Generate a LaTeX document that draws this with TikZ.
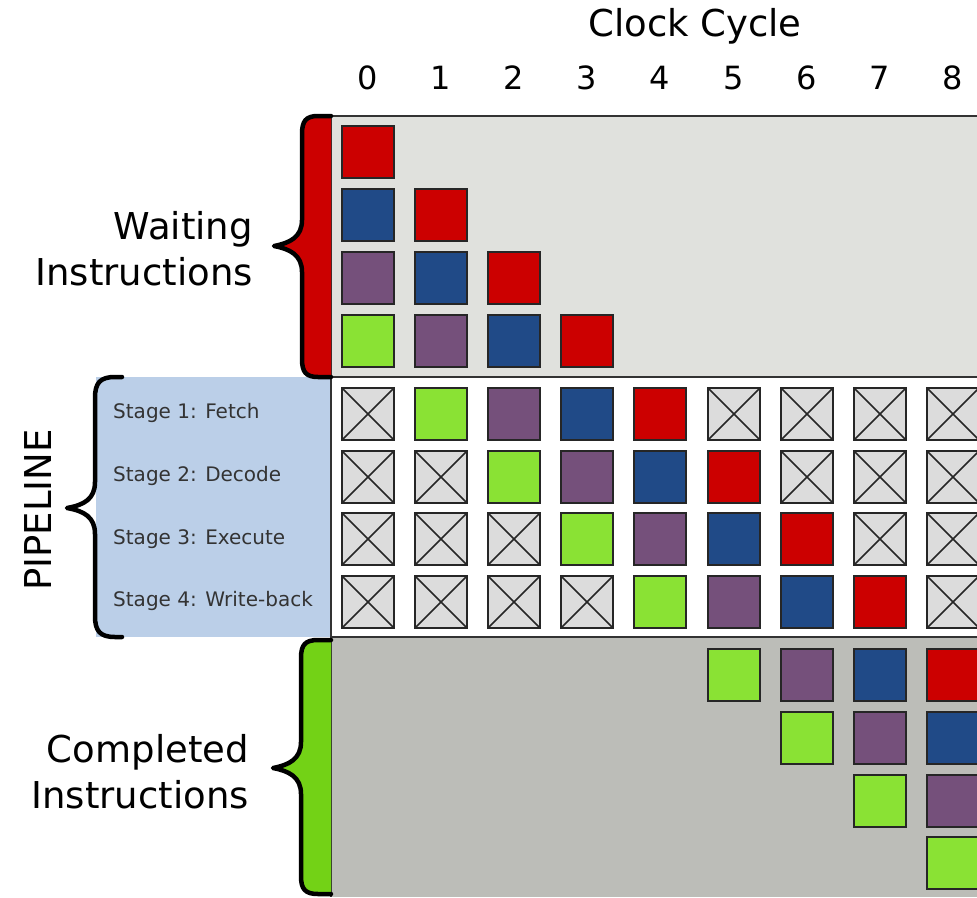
\documentclass[tikz,border=0pt]{standalone}
\usepackage{fontspec}
\setmainfont{DejaVu Sans}
\definecolor{instred}{HTML}{CC0000}
\definecolor{instblue}{HTML}{204A87}
\definecolor{instplum}{HTML}{75507B}
\definecolor{instgreen}{HTML}{8AE234}
\definecolor{bracegreen}{HTML}{73D216}
\definecolor{waitbg}{HTML}{E0E1DD}
\definecolor{donebg}{HTML}{BCBDB8}
\definecolor{pipebg}{HTML}{BBCFE8}
\definecolor{idlebg}{HTML}{DCDCDC}
\begin{document}
\begin{tikzpicture}[x=1pt,y=-1pt,
  slot/.style={draw=black!85,line width=1.8pt,minimum size=52pt,inner sep=0pt},
  idle/.style={slot,fill=idlebg,path picture={
    \draw[line width=1.6pt,black!85] (path picture bounding box.north west) -- (path picture bounding box.south east)
      (path picture bounding box.north east) -- (path picture bounding box.south west);}},
  biglbl/.style={font=\fontsize{37}{46}\selectfont,inner sep=0pt},
  cyclelbl/.style={font=\fontsize{32}{38}\selectfont,inner sep=0pt},
  stagelbl/.style={font=\fontsize{20}{24}\selectfont,text=black!80,anchor=west,inner sep=0pt},
  bracket/.style={line width=4.5pt,line join=round,line cap=round}]

\useasboundingbox (0,0) rectangle (977,897);
\clip (0,0) rectangle (977,897);

% areas
\fill[waitbg] (331,116) rectangle (977,377);
\fill[white] (331,377) rectangle (977,637);
\fill[donebg] (331,637) rectangle (977,897);
\fill[pipebg] (96,377) rectangle (331,637);
\draw[line width=2pt,black!80] (331,116) -- (977,116) (331,377) -- (977,377) (331,637) -- (977,637);
\draw[line width=1.2pt,black!80] (331,116) -- (331,897);

% brackets
\filldraw[bracket,fill=instred] (331,116) -- (318,116) .. controls (306,116) and (302,121) .. (302,134) -- (302,220)
  .. controls (302,237) and (290,243) .. (274,246) .. controls (290,249) and (302,255) .. (302,272)
  -- (302,359) .. controls (302,372) and (306,377) .. (318,377) -- (331,377);
\draw[bracket] (122,377) -- (115,377) .. controls (100,377) and (95,383) .. (95,398) -- (95,482)
  .. controls (95,499) and (84,505) .. (67,508) .. controls (84,511) and (95,517) .. (95,534)
  -- (95,616) .. controls (95,631) and (100,637) .. (115,637) -- (122,637);
\filldraw[bracket,fill=bracegreen] (331,640) -- (318,640) .. controls (305,640) and (301,645) .. (301,658) -- (301,742)
  .. controls (301,759) and (289,765) .. (273,768) .. controls (289,771) and (301,777) .. (301,794)
  -- (301,876) .. controls (301,889) and (305,894) .. (318,894) -- (331,894);

% labels
\node[biglbl] (clock) at (695,26) {Clock Cycle};
\node[cyclelbl] (t0) at (368,78) {0};
\node[cyclelbl] (t1) at (441,78) {1};
\node[cyclelbl] (t2) at (514,78) {2};
\node[cyclelbl] (t3) at (587,78) {3};
\node[cyclelbl] (t4) at (660,78) {4};
\node[cyclelbl] (t5) at (734,78) {5};
\node[cyclelbl] (t6) at (807,78) {6};
\node[cyclelbl] (t7) at (880,78) {7};
\node[cyclelbl] (t8) at (953,78) {8};
\node[biglbl,align=right,anchor=east] (waiting) at (253,249) {Waiting\\Instructions};
\node[biglbl,rotate=90] (pipeline) at (38,510) {PIPELINE};
\node[biglbl,align=right,anchor=east] (completed) at (249,772) {Completed\\Instructions};
\node[stagelbl] (s1) at (113,413) {Stage 1: Fetch};
\node[stagelbl] (s2) at (113,476) {Stage 2: Decode};
\node[stagelbl] (s3) at (113,539) {Stage 3: Execute};
\node[stagelbl] (s4) at (113,601) {Stage 4: Write-back};

% waiting
\node[slot,fill=instred] (w00) at (368,152) {};
\node[slot,fill=instblue] (w10) at (368,215) {};
\node[slot,fill=instred] (w11) at (441,215) {};
\node[slot,fill=instplum] (w20) at (368,278) {};
\node[slot,fill=instblue] (w21) at (441,278) {};
\node[slot,fill=instred] (w22) at (514,278) {};
\node[slot,fill=instgreen] (w30) at (368,341) {};
\node[slot,fill=instplum] (w31) at (441,341) {};
\node[slot,fill=instblue] (w32) at (514,341) {};
\node[slot,fill=instred] (w33) at (587,341) {};

% pipeline
\node[idle] (p10) at (368,414) {};
\node[slot,fill=instgreen] (p11) at (441,414) {};
\node[slot,fill=instplum] (p12) at (514,414) {};
\node[slot,fill=instblue] (p13) at (587,414) {};
\node[slot,fill=instred] (p14) at (660,414) {};
\node[idle] (p15) at (734,414) {};
\node[idle] (p16) at (807,414) {};
\node[idle] (p17) at (880,414) {};
\node[idle] (p18) at (953,414) {};
\node[idle] (p20) at (368,477) {};
\node[idle] (p21) at (441,477) {};
\node[slot,fill=instgreen] (p22) at (514,477) {};
\node[slot,fill=instplum] (p23) at (587,477) {};
\node[slot,fill=instblue] (p24) at (660,477) {};
\node[slot,fill=instred] (p25) at (734,477) {};
\node[idle] (p26) at (807,477) {};
\node[idle] (p27) at (880,477) {};
\node[idle] (p28) at (953,477) {};
\node[idle] (p30) at (368,539) {};
\node[idle] (p31) at (441,539) {};
\node[idle] (p32) at (514,539) {};
\node[slot,fill=instgreen] (p33) at (587,539) {};
\node[slot,fill=instplum] (p34) at (660,539) {};
\node[slot,fill=instblue] (p35) at (734,539) {};
\node[slot,fill=instred] (p36) at (807,539) {};
\node[idle] (p37) at (880,539) {};
\node[idle] (p38) at (953,539) {};
\node[idle] (p40) at (368,602) {};
\node[idle] (p41) at (441,602) {};
\node[idle] (p42) at (514,602) {};
\node[idle] (p43) at (587,602) {};
\node[slot,fill=instgreen] (p44) at (660,602) {};
\node[slot,fill=instplum] (p45) at (734,602) {};
\node[slot,fill=instblue] (p46) at (807,602) {};
\node[slot,fill=instred] (p47) at (880,602) {};
\node[idle] (p48) at (953,602) {};

% completed
\node[slot,fill=instgreen] (d05) at (734,675) {};
\node[slot,fill=instplum] (d06) at (807,675) {};
\node[slot,fill=instblue] (d07) at (880,675) {};
\node[slot,fill=instred] (d08) at (953,675) {};
\node[slot,fill=instgreen] (d16) at (807,738) {};
\node[slot,fill=instplum] (d17) at (880,738) {};
\node[slot,fill=instblue] (d18) at (953,738) {};
\node[slot,fill=instgreen] (d27) at (880,801) {};
\node[slot,fill=instplum] (d28) at (953,801) {};
\node[slot,fill=instgreen] (d38) at (953,863) {};
\end{tikzpicture}
\end{document}
